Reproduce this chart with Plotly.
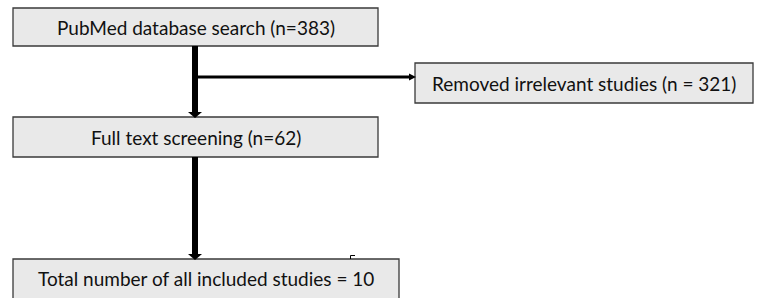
import plotly.graph_objects as go

stage_names = ["PubMed database search", "Full text screening", "Total number of all included studies"]
stage_counts = [383, 62, 10]
removed_name = "Removed irrelevant studies"
removed_count = 321

labels = [
    f"{stage_names[0]} (n={stage_counts[0]})",
    f"{stage_names[1]} (n={stage_counts[1]})",
    f"{stage_names[2]} = {stage_counts[2]}",
]
removed_label = f"{removed_name} (n = {removed_count})"

W, H = 757, 298
FILL = "#e9e9e9"
EDGE = "#3a3a3a"
FONT = dict(family="Lato, Carlito, Open Sans, sans-serif", size=19, color="#111")

# boxes: (x0, y0, x1, y1)
boxes = [(13, 8, 378, 46), (13, 117, 378, 157), (13, 259, 399, 305)]
rbox = (415, 63, 753, 103)

fig = go.Figure()
fig.add_trace(go.Scatter(x=[0, W], y=[0, H], mode="markers", marker=dict(opacity=0), hoverinfo="skip", showlegend=False))

shapes = []
annots = []
for (x0, y0, x1, y1), lab in zip(boxes, labels):
    shapes.append(dict(type="rect", x0=x0, y0=y0, x1=x1, y1=y1, fillcolor=FILL, line=dict(color=EDGE, width=1.3), layer="above"))
    annots.append(dict(x=(x0 + x1) / 2, y=(y0 + min(y1, 298)) / 2, text=lab, showarrow=False, font=FONT, xanchor="center", yanchor="middle"))
x0, y0, x1, y1 = rbox
shapes.append(dict(type="rect", x0=x0, y0=y0, x1=x1, y1=y1, fillcolor=FILL, line=dict(color=EDGE, width=1.3), layer="above"))
annots.append(dict(x=(x0 + x1) / 2, y=(y0 + y1) / 2, text=removed_label, showarrow=False, font=FONT, xanchor="center", yanchor="middle"))

# connectors
cx = 195
shapes.append(dict(type="line", x0=cx, y0=46, x1=cx, y1=112, line=dict(color="black", width=6)))
shapes.append(dict(type="path", path=f"M {cx-7},112 L {cx+7},112 L {cx},118 Z", fillcolor="black", line=dict(color="black", width=0)))
shapes.append(dict(type="line", x0=cx, y0=77, x1=410, y1=77, line=dict(color="black", width=3)))
shapes.append(dict(type="path", path="M 409,73.5 L 409,80.5 L 416,77 Z", fillcolor="black", line=dict(color="black", width=0)))
shapes.append(dict(type="line", x0=cx, y0=157, x1=cx, y1=254, line=dict(color="black", width=6)))
shapes.append(dict(type="path", path=f"M {cx-7},254 L {cx+7},254 L {cx},260 Z", fillcolor="black", line=dict(color="black", width=0)))
# small stray mark
shapes.append(dict(type="path", path="M 355,255.5 L 350.5,255.5 L 350.5,259", line=dict(color="black", width=1)))

fig.update_layout(
    width=W, height=H,
    margin=dict(l=0, r=0, t=0, b=0),
    paper_bgcolor="white", plot_bgcolor="white",
    xaxis=dict(range=[0, W], visible=False, fixedrange=True),
    yaxis=dict(range=[H, 0], visible=False, fixedrange=True),
    shapes=shapes, annotations=annots, showlegend=False,
)
fig.write_html("out.html", config={"displayModeBar": False},
               post_script="document.body.style.margin='0';document.body.style.overflow='hidden';")
